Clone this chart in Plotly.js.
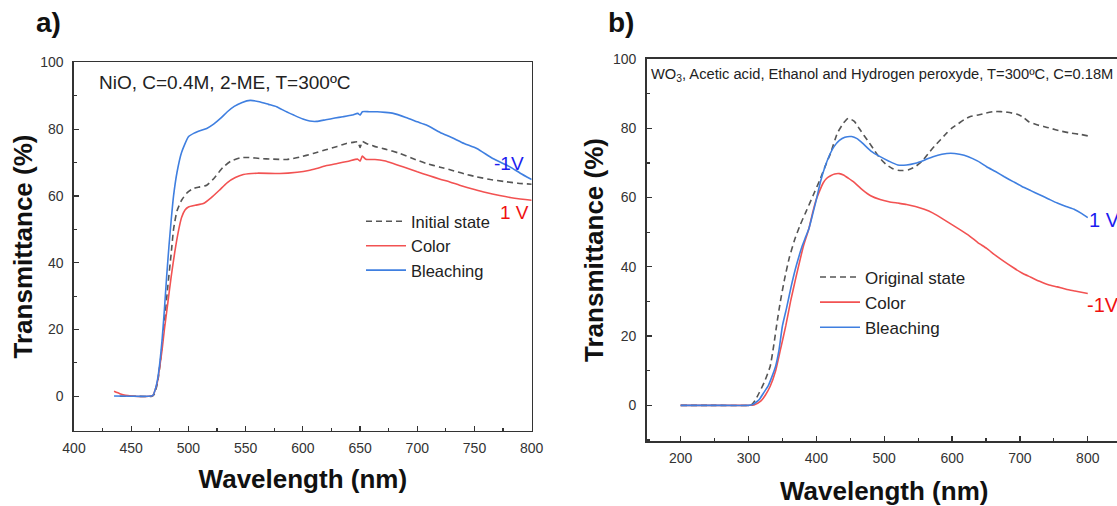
<!DOCTYPE html>
<html>
<head>
<meta charset="utf-8">
<script src="https://cdn.plot.ly/plotly-3.0.1.min.js"></script>
<style>
html, body { margin: 0; padding: 0; overflow: hidden; background: #fff; }
#chart { width: 1140px; height: 506px; }
</style>
</head>
<body>
<div id="chart"></div>
<script>
// ---------- Panel a) NiO ----------
const aInitialWl = [440,455,468,470,473,476,479,482,485,487,490,494,499,504,510,516,523,530,537,545,553,562,574,586,597,609,620,630,638,645,648,650,652,656,662,672,684,696,708,720,730,741,752,764,776,788,800];
const aInitialT  = [0,0,0,0.5,4,12,22,33,43,50,55.5,58.7,61,62.2,62.7,63.2,65.5,68.5,70.4,71.4,71.5,71.2,71,70.9,71.6,72.7,73.8,74.8,75.7,76.1,76.2,74.5,76.3,75.6,74.9,74,72.8,71.2,69.7,68.6,67.7,66.6,65.7,64.9,64.3,63.8,63.5];

const aColorWl = [435,440,445,450,465,469,471,473,475,477,479,482,485,488,491,494,497,500,506,513,520,527,534,541,548,560,580,595,605,612,620,630,640,648,650,652,655,663,671,679,690,700,710,720,729,737,750,760,772,785,800];
const aColorT  = [1.5,0.8,0.3,0.1,0,0.3,2,4.5,9,14,20,28,36,43,49,53.5,55.8,56.7,57.2,57.7,59.5,61.7,64,65.5,66.4,66.8,66.7,67.1,67.6,68.2,69,69.7,70.4,71,70.4,71.9,71,70.9,70.5,69.7,68.4,67.2,66.1,65,64.1,63.2,61.9,61,60.1,59.3,58.7];

const aBleachWl = [435,450,465,469,471,473,475,477,479,481,483,485,487,490,494,500,505,510,516,522,528,534,540,547,554,562,570,577,585,592,600,606,612,620,628,635,643,648,650,652,658,665,672,679,690,700,708,720,730,741,752,766,781,790,800];
const aBleachT  = [0.1,0,0,0.3,2,5,10,17,26,36,45,53,60,67,73,77.7,78.8,79.5,80.2,81.5,83.2,85.2,86.8,88,88.6,88.2,87.4,86.7,85.3,84.2,83,82.4,82.3,82.8,83.3,83.7,84.2,84.7,84.2,85.2,85.2,85.2,85,84.7,83.5,82.2,81.2,79,77.5,75.7,74.2,71.2,68.7,66.8,64.9];

// ---------- Panel b) WO3 ----------
const bOriginalWl = [200,250,300,305,310,316,324,332,337,342,347,353,360,368,376,385,395,405,413,421,431,440,447,456,463,470,478,486,494,503,512,520,528,536,545,556,565,574,583,592,600,609,618,627,640,650,661,672,682,695,705,713,725,735,745,760,775,790,800];
const bOriginalT  = [0,0,0,0.3,1.5,3.7,7,11.3,17,23.8,30,36.3,42.5,47.8,52,56,60.5,65,69,72.8,78.6,81.5,82.9,82,80,78,75.8,73.5,71.3,69.5,68.4,67.9,67.8,68,68.8,70.5,72.7,74.8,76.7,78.6,80.1,81.3,82.5,83.4,83.9,84.4,84.8,84.8,84.6,84.1,83.2,81.9,81,80.5,80,79.2,78.6,78.2,77.8];

const bColorWl = [200,250,300,308,318,325,332,340,347,355,362,370,381,389,395,400,405,410,415,421,427,434,440,447,455,468,480,494,507,520,533,546,559,572,585,598,611,625,638,651,664,677,690,703,716,729,742,755,768,781,800];
const bColorT  = [0,0,0,0.1,1.2,3,5.5,10,16,23,30,37,46,51,56,59.5,62,64.2,65.5,66.3,66.8,66.9,66.5,65.6,64.5,62.2,60.5,59.4,58.8,58.4,58,57.4,56.6,55.5,54,52.4,50.8,49,47,45.3,43.3,41.5,39.8,38.2,37,35.8,34.8,34.2,33.5,33,32.3];

const bBleachWl = [200,250,300,306,316,322,329,335,340,345,350,356,363,370,379,384,389,395,400,406,413,420,426,434,442,452,460,468,480,494,507,520,533,546,559,572,585,598,611,624,638,651,664,677,690,703,716,729,742,755,768,781,790,800];
const bBleachT  = [0,0,0,0.2,1.7,3.5,5.6,8.5,11.3,16,22.9,28,34.4,40,45.9,48.5,51,55.5,59.4,64.5,69,72.5,74.7,76.5,77.4,77.6,77,75.7,73.5,71.8,70.5,69.4,69.4,69.9,70.8,71.8,72.5,72.8,72.5,71.8,70.5,68.9,67.5,66,64.6,63.2,62,60.8,59.6,58.4,57.4,56.5,55.5,54.2];

// Axis ticks
const aXTicks = [400,450,500,550,600,650,700,750,800];
const bXTicks = [200,300,400,500,600,700,800];
const yTicks  = [0,20,40,60,80,100];

const GRAY = '#555555', RED = '#f25252', BLUE = '#3f7fe0';
const W = 1140, H = 506;
const FONT = 'Arial, "Liberation Sans", sans-serif';

function line(x, y, name, color, dash, xa, ya, legend) {
  return { x: x, y: y, name: name, type: 'scatter', mode: 'lines',
    line: { color: color, width: 1.6, dash: dash || 'solid', shape: 'spline', smoothing: 0.5 },
    xaxis: xa, yaxis: ya, legend: legend, showlegend: true, hoverinfo: 'skip' };
}

const traces = [
  line(aInitialWl, aInitialT, 'Initial state', GRAY, '6px,4px', 'x', 'y', 'legend'),
  line(aColorWl, aColorT, 'Color', RED, 'solid', 'x', 'y', 'legend'),
  line(aBleachWl, aBleachT, 'Bleaching', BLUE, 'solid', 'x', 'y', 'legend'),
  line(bOriginalWl, bOriginalT, 'Original state', GRAY, '6px,4px', 'x2', 'y2', 'legend2'),
  line(bColorWl, bColorT, 'Color', RED, 'solid', 'x2', 'y2', 'legend2'),
  line(bBleachWl, bBleachT, 'Bleaching', BLUE, 'solid', 'x2', 'y2', 'legend2')
];

function xAxis(domain, range, ticks, minorDtick, anchor, standoff) {
  return { domain: domain, range: range, anchor: anchor, tickvals: ticks,
    ticks: 'inside', ticklen: 5, tickwidth: 1.2, tickcolor: '#333',
    minor: { dtick: minorDtick, tick0: 0, ticks: 'inside', ticklen: 3, tickwidth: 1.2, tickcolor: '#333', showgrid: false },
    showline: true, linecolor: '#333', linewidth: 1.6, mirror: true,
    showgrid: false, zeroline: false, ticklabelstandoff: 4,
    tickfont: { family: FONT, size: 14, color: '#333' },
    title: { text: 'Wavelength (nm)', font: { family: FONT, size: 26, color: '#111', weight: 'bold' }, standoff: standoff } };
}
function yAxis(domain, anchor, standoff) {
  return { domain: domain, range: [-10.3, 100], anchor: anchor, tickvals: yTicks,
    ticks: 'inside', ticklen: 5, tickwidth: 1.2, tickcolor: '#333',
    minor: { dtick: 10, tick0: 0, ticks: 'inside', ticklen: 3, tickwidth: 1.2, tickcolor: '#333', showgrid: false },
    showline: true, linecolor: '#333', linewidth: 1.6, mirror: true,
    showgrid: false, zeroline: false, ticklabelstandoff: 6,
    tickfont: { family: FONT, size: 14, color: '#333' },
    title: { text: 'Transmittance (%)', font: { family: FONT, size: 26, color: '#111', weight: 'bold' }, standoff: standoff } };
}

function note(text, px, py, size, color) {
  return { text: text, x: px / W, y: 1 - py / H, xref: 'paper', yref: 'paper', xanchor: 'left', yanchor: 'middle',
    showarrow: false, font: { family: FONT, size: size, color: color } };
}

const layout = {
  width: W, height: H,
  margin: { l: 0, r: 0, t: 0, b: 0 },
  paper_bgcolor: '#fff', plot_bgcolor: '#fff',
  font: { family: FONT, color: '#222' },
  xaxis: xAxis([74 / W, 531.7 / W], [400, 800], aXTicks, 25, 'y', 15),
  yaxis: yAxis([(H - 430.7) / H, (H - 62.3) / H], 'x', 0),
  xaxis2: xAxis([646.7 / W, 1121.7 / W], [150, 850], bXTicks, 50, 'y2', 17),
  yaxis2: yAxis([(H - 441) / H, (H - 59) / H], 'x2', 2),
  legend: { x: 361 / W, y: 1 - 204 / H, xanchor: 'left', yanchor: 'top', bgcolor: 'rgba(0,0,0,0)', itemwidth: 40,
    font: { family: FONT, size: 16.5, color: '#222' }, tracegroupgap: 0 },
  legend2: { x: 815 / W, y: 1 - 259.5 / H, xanchor: 'left', yanchor: 'top', bgcolor: 'rgba(0,0,0,0)', itemwidth: 40,
    font: { family: FONT, size: 17, color: '#222' }, tracegroupgap: 0 },
  annotations: [
    note('<b>a)</b>', 34, 23, 28, '#111'),
    note('<b>b)</b>', 606, 23, 28, '#111'),
    note('NiO, C=0.4M, 2-ME, T=300ºC', 97, 83, 19, '#222'),
    note('WO<sub>3</sub>, Acetic acid, Ethanol and Hydrogen peroxyde, T=300ºC, C=0.18M', 649, 75, 14.7, '#222'),
    note('-1V', 492, 163, 19, '#1c1cf0'),
    note('1 V', 498, 212, 19, '#f01010'),
    note('1 V', 1087, 220, 20, '#1c1cf0'),
    note('-1V', 1085, 305, 20, '#f01010')
  ]
};

Plotly.newPlot('chart', traces, layout, { staticPlot: true, displayModeBar: false });
</script>
</body>
</html>
